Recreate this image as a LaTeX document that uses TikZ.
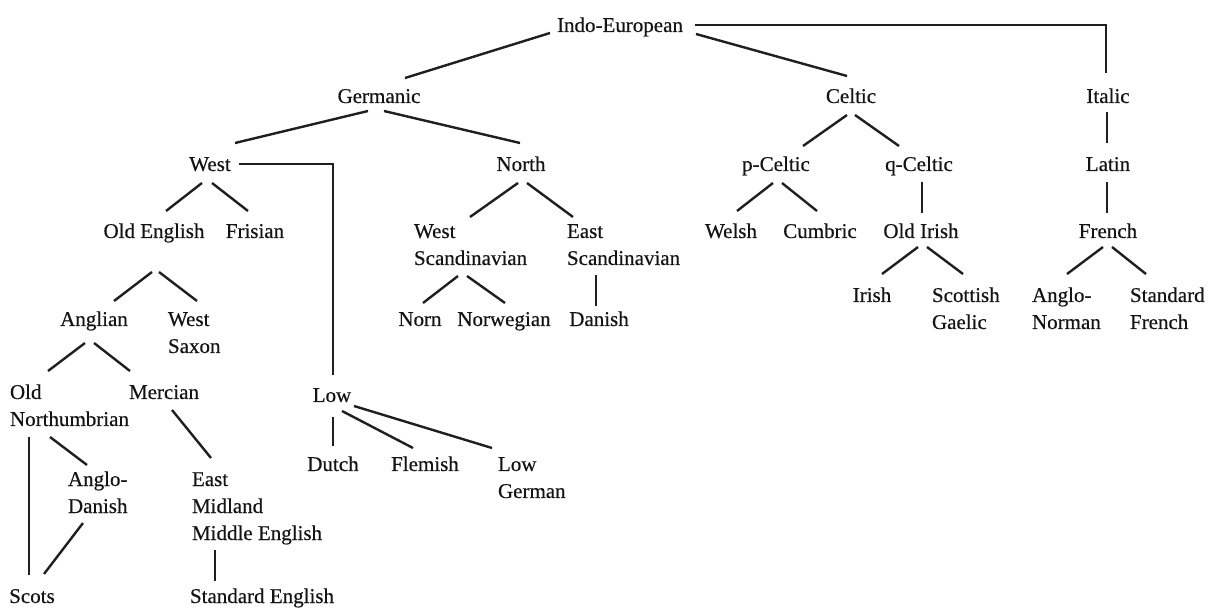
\documentclass[tikz,border=0pt]{standalone}
\usepackage{fontspec}
\setmainfont[FakeBold=0.4]{Liberation Serif}
\newcommand\lang[1]{\begin{tabular}[t]{@{}l@{}}#1\end{tabular}}
\newcommand\con[4]{\draw[conn] ([shift={(#2)}]#1) -- ([shift={(#4)}]#3);}
\newcommand\conel[4]{\draw[conn] ([shift={(#2)}]#1) -| ([shift={(#4)}]#3);}
\begin{document}
\begin{tikzpicture}[x=1pt,y=-1pt,
  lbl/.style={inner sep=0pt,outer sep=0pt,anchor=base,text=black!92,font=\fontsize{21}{27}\selectfont},
  mlbl/.style={lbl,anchor=base west},
  conn/.style={draw=black!88,line width=2.4pt}]
\useasboundingbox[fill=white] (0,0) rectangle (1216,609);
% single-line labels
\node[lbl] (ie) at (620,32) {Indo-European};
\node[lbl] (ger) at (379,103) {Germanic};
\node[lbl] (cel) at (851,103) {Celtic};
\node[lbl] (ita) at (1108,103) {Italic};
\node[lbl] (west) at (210,171) {West};
\node[lbl] (north) at (521,171) {North};
\node[lbl] (pcel) at (776,171) {p-Celtic};
\node[lbl] (qcel) at (919,171) {q-Celtic};
\node[lbl] (lat) at (1108,171) {Latin};
\node[lbl] (oe) at (154,238) {Old English};
\node[lbl] (fri) at (255,238) {Frisian};
\node[lbl] (wel) at (731,238) {Welsh};
\node[lbl] (cum) at (820,238) {Cumbric};
\node[lbl] (oir) at (921,238) {Old Irish};
\node[lbl] (fre) at (1108,238) {French};
\node[lbl] (ang) at (94,326) {Anglian};
\node[lbl] (norn) at (420,326) {Norn};
\node[lbl] (nor) at (504,326) {Norwegian};
\node[lbl] (dan) at (599,326) {Danish};
\node[lbl] (iri) at (872,302) {Irish};
\node[lbl] (mer) at (164,399) {Mercian};
\node[lbl] (low) at (332,402) {Low};
\node[lbl] (dut) at (333,471) {Dutch};
\node[lbl] (fle) at (425,471) {Flemish};
\node[lbl] (scots) at (32,603) {Scots};
\node[lbl] (stde) at (262,603) {Standard English};
% multi-line labels
\node[mlbl] (wscan) at (414,238) {\lang{West\\Scandinavian}};
\node[mlbl] (escan) at (567,238) {\lang{East\\Scandinavian}};
\node[mlbl] (wsax) at (168,326) {\lang{West\\Saxon}};
\node[mlbl] (sga) at (932,302) {\lang{Scottish\\Gaelic}};
\node[mlbl] (anor) at (1032,302) {\lang{Anglo-\\Norman}};
\node[mlbl] (sfr) at (1130,302) {\lang{Standard\\French}};
\node[mlbl] (onor) at (10,399) {\lang{Old\\Northumbrian}};
\node[mlbl] (lger) at (498,471) {\lang{Low\\German}};
\node[mlbl] (adan) at (68,486) {\lang{Anglo-\\Danish}};
\node[mlbl] (emme) at (192,486) {\lang{East\\Midland\\Middle English}};
% connectors
\con{ie.base}{-70,1}{ger.base}{26,-25}
\conel{ie.base}{75,-7}{ita.base}{-2,-30}
\con{ie.base}{76,2}{cel.base}{-4,-27}
\con{ger.base}{-11,8}{west.base}{25,-28}
\con{ger.base}{5,8}{north.base}{-1,-28}
\con{west.base}{-8,12}{oe.base}{12,-27}
\con{west.base}{2,12}{fri.base}{-7,-27}
\conel{west.base}{29,-7}{low.base}{1,-27}
\con{oe.base}{-2,34}{ang.base}{20,-25}
\con{oe.base}{5,34}{wsax.base west}{29,-25}
\con{ang.base}{-9,17}{onor.base west}{38,-28}
\con{ang.base}{0,17}{mer.base}{-34,-28}
\con{onor.base west}{19,38}{scots.base}{-3,-28}
\con{onor.base west}{40,38}{adan.base west}{19,-21}
\con{adan.base west}{15,37}{scots.base}{12,-29}
\con{mer.base}{8,11}{emme.base west}{19,-28}
\con{emme.base west}{23,64}{stde.base}{-47,-22}
\con{low.base}{1,15}{dut.base}{0,-25}
\con{low.base}{10,9}{fle.base}{-12,-23}
\con{low.base}{22,4}{lger.base west}{-6,-23}
\con{north.base}{-3,12}{wscan.base west}{56,-21}
\con{north.base}{6,12}{escan.base west}{6,-21}
\con{wscan.base west}{44,38}{norn.base}{3,-23}
\con{wscan.base west}{53,38}{nor.base}{1,-23}
\con{escan.base west}{29,37}{dan.base}{-3,-20}
\con{cel.base}{-4,12}{pcel.base}{27,-25}
\con{cel.base}{4,12}{qcel.base}{-20,-25}
\con{pcel.base}{-3,12}{wel.base}{6,-27}
\con{pcel.base}{6,12}{cum.base}{-3,-27}
\con{qcel.base}{3,11}{oir.base}{1,-25}
\con{oir.base}{-3,9}{iri.base}{10,-28}
\con{oir.base}{6,9}{sga.base west}{31,-28}
\con{ita.base}{-1,9}{lat.base}{-1,-28}
\con{lat.base}{-1,11}{fre.base}{-1,-25}
\con{fre.base}{-5,9}{anor.base west}{35,-28}
\con{fre.base}{4,9}{sfr.base west}{16,-28}
\end{tikzpicture}
\end{document}
